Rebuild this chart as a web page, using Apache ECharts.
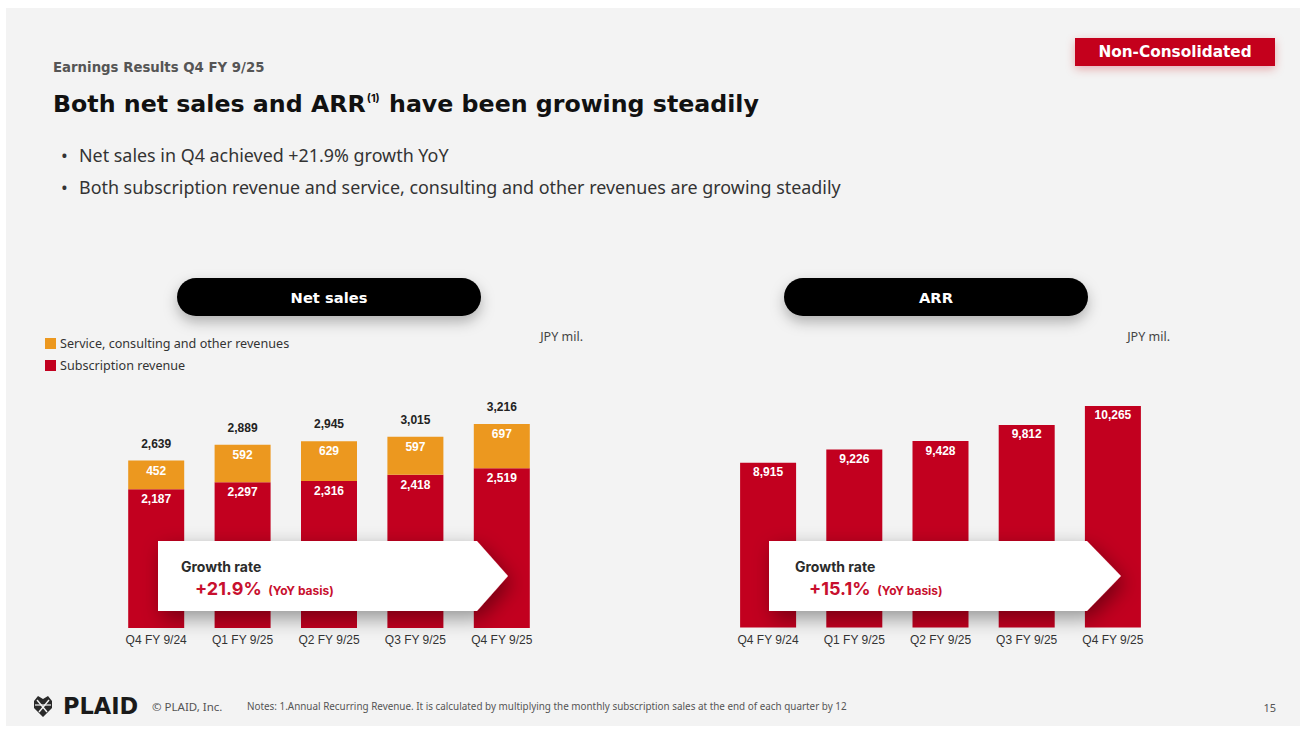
<!DOCTYPE html>
<html>
<head>
<meta charset="utf-8">
<script src="https://cdn.jsdelivr.net/npm/echarts@6/dist/echarts.min.js"></script>
<style>
  html, body { margin: 0; padding: 0; background: #ffffff; }
  #slide { position: absolute; left: 6px; top: 8px; width: 1294px; height: 718px; background: #f3f3f3; }
  #chart { position: absolute; left: 0; top: 0; width: 1308px; height: 733px; }
</style>
</head>
<body>
<div id="slide"></div>
<div id="chart"></div>
<script>
// Quarterly figures, JPY mil.
const categories = ['Q4 FY 9/24', 'Q1 FY 9/25', 'Q2 FY 9/25', 'Q3 FY 9/25', 'Q4 FY 9/25'];
const subscription = [2187, 2297, 2316, 2418, 2519];
const service = [452, 592, 629, 597, 697];
const arr = [8915, 9226, 9428, 9812, 10265];

const SUB_NAME = 'Subscription revenue';
const SVC_NAME = 'Service, consulting and other revenues';

const RED = '#c2001f';
const ORANGE = '#ec981f';
const ACCENT = '#c8102e';
const HEAD_FONT = '"DejaVu Sans", Inter, sans-serif';
const CALLOUT_FONT = 'Inter, "Noto Sans", sans-serif';
const BODY_FONT = '"Noto Sans", "Open Sans", sans-serif';
const NUM_FONT = '"Liberation Sans", Arial, sans-serif';

const totals = subscription.map((v, i) => v + service[i]);
const fmt = v => v.toLocaleString('en-US');
const yoy = s => '+' + ((s[s.length - 1] / s[0] - 1) * 100).toFixed(1) + '%';

const chart = echarts.init(document.getElementById('chart'), null, { renderer: 'svg', width: 1308, height: 733 });

function txt(x, y, text, font, extra) {
  return Object.assign({
    type: 'text', x: x, y: y, z: 120, silent: true,
    style: Object.assign({ text: text, align: 'left', verticalAlign: 'middle' }, font)
  }, extra || {});
}

function pill(x, y, w, label) {
  return [
    { type: 'rect', z: 110, silent: true,
      shape: { x: x, y: y, width: w, height: 38, r: 19 },
      style: { fill: '#000', shadowBlur: 14, shadowOffsetY: 6, shadowColor: 'rgba(0,0,0,0.28)' } },
    txt(x + w / 2, y + 19, label, { fill: '#fff', fontSize: 14.7, fontWeight: 'bold', fontFamily: HEAD_FONT, align: 'center' })
  ];
}

function growthArrow(x0, xb, xt, rate, tx) {
  return [
    { type: 'polygon', z: 110, silent: true,
      shape: { points: [[x0, 541], [xb, 541], [xt, 576], [xb, 611], [x0, 611]] },
      style: { fill: '#fff', shadowBlur: 20, shadowOffsetX: 4, shadowOffsetY: 7, shadowColor: 'rgba(0,0,0,0.4)' } },
    txt(tx, 566.5, 'Growth rate', { fill: '#2b2b2b', fontSize: 14, fontWeight: 'bold', fontFamily: CALLOUT_FONT }),
    txt(tx + 14, 588.5, '{v|' + rate + '}  {b|(YoY basis)}', {
      rich: {
        v: { fill: ACCENT, fontSize: 18, fontWeight: 'bold', fontFamily: CALLOUT_FONT },
        b: { fill: ACCENT, fontSize: 12, fontWeight: 'bold', fontFamily: CALLOUT_FONT, padding: [3, 0, 0, 0] }
      }
    })
  ];
}

const graphics = [
  // header
  txt(53, 67, 'Earnings Results Q4 FY 9/25', { fill: '#555', fontSize: 13.3, fontWeight: 'bold', fontFamily: HEAD_FONT }),
  txt(53, 104, '{a|Both net sales and ARR}{s|(1)}{a| have been growing steadily}', {
    rich: {
      a: { fill: '#111', fontSize: 23.7, fontWeight: 'bold', fontFamily: HEAD_FONT },
      s: { fill: '#111', fontSize: 11, fontWeight: 'bold', fontFamily: CALLOUT_FONT, verticalAlign: 'top', padding: [0, 1, 10, 1] }
    }
  }),
  txt(61, 155, '•', { fill: '#333', fontSize: 18, fontFamily: BODY_FONT }),
  txt(79, 155, 'Net sales in Q4 achieved +21.9% growth YoY', { fill: '#333', fontSize: 17.9, fontFamily: BODY_FONT }),
  txt(61, 187, '•', { fill: '#333', fontSize: 18, fontFamily: BODY_FONT }),
  txt(79, 187, 'Both subscription revenue and service, consulting and other revenues are growing steadily', { fill: '#333', fontSize: 17.9, fontFamily: BODY_FONT }),

  // badge
  { type: 'rect', z: 110, silent: true,
    shape: { x: 1075, y: 38, width: 200, height: 28 },
    style: { fill: '#c4001f', shadowBlur: 10, shadowOffsetY: 3, shadowColor: 'rgba(196,0,31,0.3)' } },
  txt(1175, 52, 'Non-Consolidated', { fill: '#fff', fontSize: 15.3, fontWeight: 'bold', fontFamily: HEAD_FONT, align: 'center' }),

  // panel headers and units
  ...pill(177, 278, 304, 'Net sales'),
  ...pill(784, 278, 304, 'ARR'),
  txt(583, 336, 'JPY mil.', { fill: '#444', fontSize: 12.5, fontFamily: BODY_FONT, align: 'right' }),
  txt(1170, 336, 'JPY mil.', { fill: '#444', fontSize: 12.5, fontFamily: BODY_FONT, align: 'right' }),

  // growth callouts
  ...growthArrow(158, 477, 508, yoy(totals), 181),
  ...growthArrow(769, 1087, 1121, yoy(arr), 795),

  // footer
  { type: 'polygon', z: 120, silent: true,
    shape: { points: [[34, 701], [38, 696], [43, 699], [48, 696], [52, 701], [52, 708], [43, 717], [34, 708]] },
    style: { fill: '#2a2a2a' } },
  { type: 'polyline', z: 121, silent: true,
    shape: { points: [[37, 700], [47, 712]] }, style: { stroke: '#f3f3f3', lineWidth: 1.4 } },
  { type: 'polyline', z: 121, silent: true,
    shape: { points: [[49, 700], [39, 712]] }, style: { stroke: '#f3f3f3', lineWidth: 1.4 } },
  { type: 'polyline', z: 121, silent: true,
    shape: { points: [[35, 705], [51, 705]] }, style: { stroke: '#f3f3f3', lineWidth: 1.2 } },
  txt(63, 706, 'PLAID', { fill: '#1a1a1a', fontSize: 22.5, fontWeight: 'bold', fontFamily: HEAD_FONT }),
  txt(152, 706, '© PLAID, Inc.', { fill: '#555', fontSize: 11.5, fontFamily: BODY_FONT }),
  txt(247, 706, 'Notes: 1.Annual Recurring Revenue. It is calculated by multiplying the monthly subscription sales at the end of each quarter by 12', { fill: '#555', fontSize: 9.9, fontFamily: BODY_FONT }),
  txt(1276, 707, '15', { fill: '#555', fontSize: 11, fontFamily: BODY_FONT, align: 'right' })
];

const catAxis = gi => ({
  type: 'category', gridIndex: gi, data: categories,
  axisLine: { show: false }, axisTick: { show: false },
  axisLabel: { color: '#333', fontSize: 12, fontFamily: NUM_FONT, margin: 6 }
});
const valAxis = (gi, min, max) => ({
  type: 'value', gridIndex: gi, min: min, max: max,
  show: false, splitLine: { show: false }
});
const inLabel = d => ({
  show: true, position: 'insideTop', distance: d, color: '#fff',
  fontSize: 12, fontWeight: 'bold', fontFamily: NUM_FONT,
  formatter: p => fmt(p.value)
});

chart.setOption({
  animation: false,
  backgroundColor: 'transparent',
  legend: {
    left: 45, top: 337, orient: 'vertical', padding: 0,
    itemWidth: 11, itemHeight: 11, itemGap: 9, icon: 'rect',
    selectedMode: false,
    data: [SVC_NAME, SUB_NAME],
    textStyle: { color: '#333', fontSize: 12.6, fontFamily: BODY_FONT, lineHeight: 11, padding: [0, 0, 0, -1] }
  },
  grid: [
    { left: 113, width: 432, top: 406, height: 222 },
    { left: 725, width: 431, top: 396, height: 231.5 }
  ],
  xAxis: [catAxis(0), catAxis(1)],
  yAxis: [valAxis(0, 0, 3500), valAxis(1, 5000, 10500)],
  series: [
    { name: SUB_NAME, type: 'bar', stack: 'sales', xAxisIndex: 0, yAxisIndex: 0,
      barWidth: 56, data: subscription, itemStyle: { color: RED },
      label: inLabel(4), silent: true },
    { name: SVC_NAME, type: 'bar', stack: 'sales', xAxisIndex: 0, yAxisIndex: 0,
      barWidth: 56, data: service, itemStyle: { color: ORANGE },
      label: inLabel(4), silent: true },
    { name: 'Total', type: 'bar', stack: 'sales', xAxisIndex: 0, yAxisIndex: 0,
      barWidth: 56, data: totals.map(() => 0), itemStyle: { color: 'transparent' },
      silent: true,
      label: { show: true, position: 'top', distance: 11, color: '#222',
        fontSize: 12, fontWeight: 'bold', fontFamily: NUM_FONT,
        formatter: p => fmt(totals[p.dataIndex]) } },
    { name: 'ARR', type: 'bar', xAxisIndex: 1, yAxisIndex: 1,
      barWidth: 56, data: arr, itemStyle: { color: RED },
      label: inLabel(3.5), silent: true }
  ],
  graphic: graphics
});
</script>
</body>
</html>
